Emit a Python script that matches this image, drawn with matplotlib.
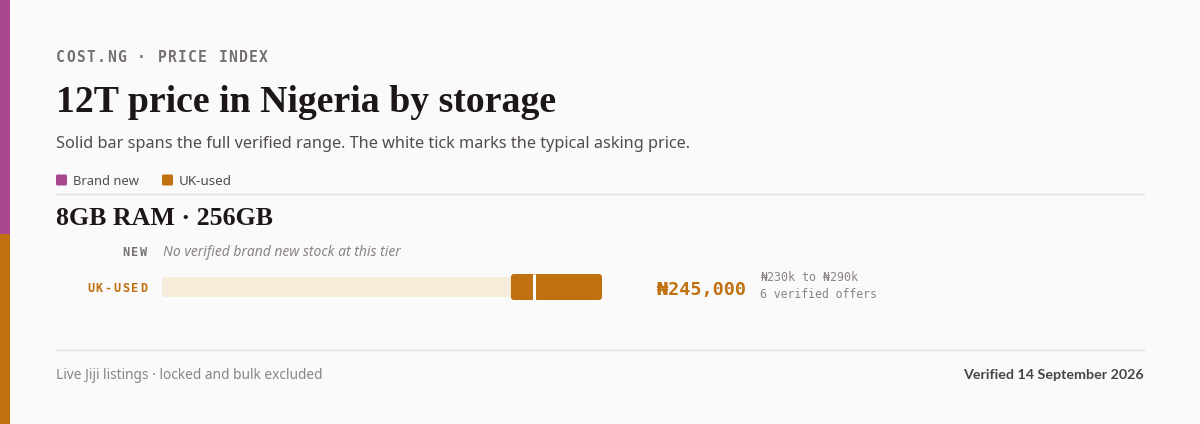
import matplotlib
matplotlib.use("Agg")
import matplotlib.pyplot as plt
from matplotlib.patches import FancyBboxPatch

# ---- data ----
kicker = "COST.NG · PRICE INDEX"
title = "12T price in Nigeria by storage"
subtitle = "Solid bar spans the full verified range. The white tick marks the typical asking price."
legend_labels = ["Brand new", "UK-used"]
tier_label = "8GB RAM · 256GB"
row_labels = ["NEW", "UK-USED"]
new_note = "No verified brand new stock at this tier"
uk_low = 230000
uk_high = 290000
uk_typical = 245000
uk_offers = 6
scale_max = 290000
footer_left = "Live Jiji listings · locked and bulk excluded"
footer_right = "Verified 14 September 2026"

# ---- style ----
BG = "#FBFAFA"
PURPLE = "#A8478F"
ORANGE = "#C0700F"
TRACK = "#F7EBDA"
INK = "#1C1618"
GRAY_K = "#777072"
GRAY_S = "#524C50"
GRAY_F = "#8A8488"
RULE = "#E2DFE0"
SERIF = "Liberation Serif"
SANS = "Noto Sans"
SANS_B = "Lato"
MONO = "DejaVu Sans Mono"

W, H = 1200, 424
fig = plt.figure(figsize=(W / 100, H / 100), dpi=100)
fig.patch.set_facecolor(BG)
ax = fig.add_axes([0, 0, 1, 1])
ax.set_xlim(0, W)
ax.set_ylim(H, 0)
ax.axis("off")
renderer = fig.canvas.get_renderer()


def fit(t, target_w):
    bb = t.get_window_extent(renderer)
    t.set_fontsize(t.get_fontsize() * target_w / bb.width)
    return t


def spaced(x, y, s, pitch, cw, ha="left", **kw):
    n = len(s)
    if ha == "right":
        x0 = x - (n - 1) * pitch - cw
    else:
        x0 = x
    for i, ch in enumerate(s):
        ax.text(x0 + i * pitch + cw / 2, y, ch, ha="center", va="baseline", **kw)


# left stripe
ax.add_patch(plt.Rectangle((0, 0), 10, 234, color=PURPLE, lw=0))
ax.add_patch(plt.Rectangle((0, 234), 10, H - 234, color=ORANGE, lw=0))

# kicker
spaced(56, 62, kicker, 10.15, 8.7, fontsize=10.5, family=MONO, weight="bold", color=GRAY_K)

# title
t = ax.text(56, 112, title, fontsize=29, family=SERIF, weight="bold", color=INK, va="baseline")
fit(t, 500)
t = ax.text(56, 148, subtitle, fontsize=12, family=SANS, color=GRAY_S, va="baseline")
fit(t, 633)

# legend
for xs, xt, col, lab, tw in [(56, 73, PURPLE, legend_labels[0], 66), (162, 179, ORANGE, legend_labels[1], 53)]:
    ax.add_patch(FancyBboxPatch((xs, 174.5), 11, 11, boxstyle="round,pad=0,rounding_size=1.5", color=col, lw=0))
    t = ax.text(xt, 185, lab, fontsize=9.5, family=SANS, color=GRAY_S, va="baseline")
    fit(t, tw)

# rules
ax.plot([56, 1144], [193.5, 193.5], color=RULE, lw=1)
ax.plot([56, 1144], [349.5, 349.5], color=RULE, lw=1)

# tier heading
t = ax.text(56, 225, tier_label, fontsize=18, family=SERIF, weight="bold", color=INK, va="baseline")
fit(t, 217)

# row labels
spaced(147, 256, row_labels[0], 9.0, 7.2, ha="right", fontsize=8.6, family=MONO, weight="bold", color=GRAY_K)
t = ax.text(163, 256, new_note, fontsize=10, family=SANS, style="italic", color=GRAY_F, va="baseline")
fit(t, 238)
spaced(147, 292, row_labels[1], 8.8, 7.2, ha="right", fontsize=8.6, family=MONO, weight="bold", color=ORANGE)

# bar row (own axes in naira, y in pixels)
bx0, bx1 = 162, 602
by0, by1 = 270, 304
bax = fig.add_axes([bx0 / W, 1 - by1 / H, (bx1 - bx0) / W, (by1 - by0) / H])
bax.set_xlim(0, scale_max)
bax.set_ylim(-17, 17)
bax.axis("off")
bax.patch.set_alpha(0)
naira_per_px = scale_max / (bx1 - bx0)
asp = 1 / naira_per_px


def rbar(left, width, height, color, r_px):
    p = FancyBboxPatch((left, -height / 2), width, height,
                       boxstyle=f"round,pad=0,rounding_size={r_px * naira_per_px}",
                       mutation_aspect=asp, color=color, lw=0)
    bax.add_patch(p)


rbar(0, scale_max, 20, TRACK, 3)
rbar(uk_low, uk_high - uk_low, 26, ORANGE, 3)
bax.vlines(uk_typical, -13, 13, color="white", lw=2.2)

# value text
ax.text(657, 295, f"₦{uk_typical:,}", fontsize=13.2, family=MONO, weight="bold", color=ORANGE, va="baseline")
ax.text(760, 281, f"₦{uk_low // 1000}k to ₦{uk_high // 1000}k", fontsize=8.4, family=MONO, color=GRAY_F, va="baseline")
ax.text(760, 298, f"{uk_offers} verified offers", fontsize=8.3, family=MONO, color=GRAY_F, va="baseline")

# footer
t = ax.text(56, 379, footer_left, fontsize=10, family=SANS, color=GRAY_F, va="baseline")
fit(t, 267)
t = ax.text(1144, 379, footer_right, fontsize=10, family=SANS_B, weight="bold", color="#4A4448", va="baseline", ha="right")
fit(t, 181)

fig.savefig("out.png", dpi=100, facecolor=BG)
